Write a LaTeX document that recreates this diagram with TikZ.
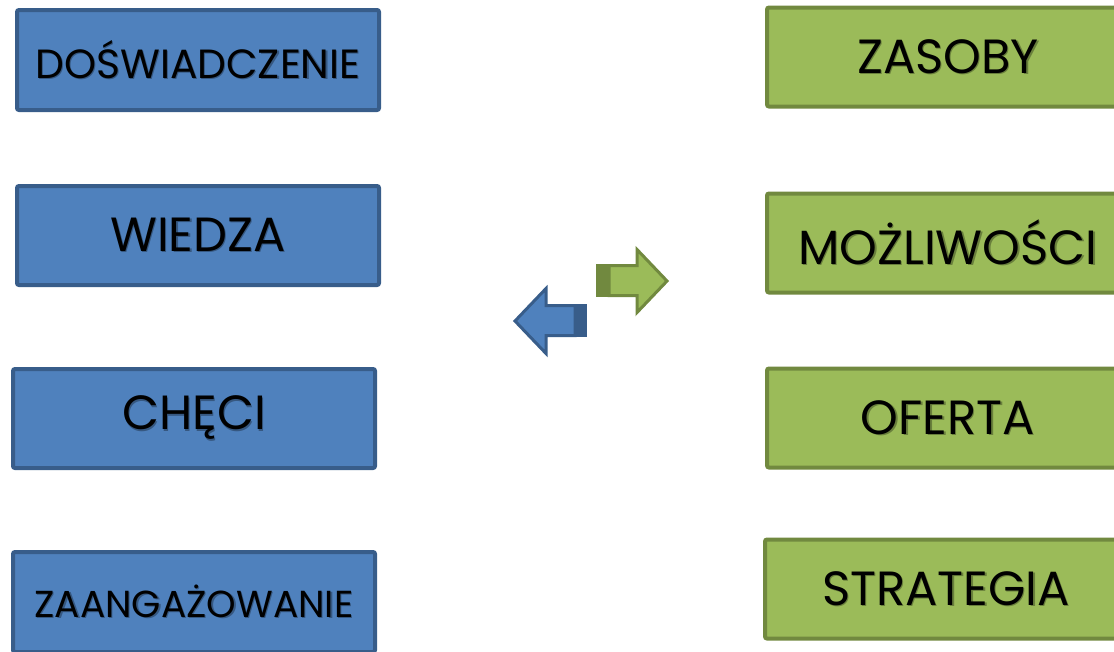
\documentclass[tikz,border=0pt]{standalone}
\usepackage{fontspec}
\setmainfont{Poppins}
\definecolor{bfill}{HTML}{4F81BD}
\definecolor{bline}{HTML}{385D8A}
\definecolor{gfill}{HTML}{9BBB59}
\definecolor{gline}{HTML}{71893F}
\newcommand{\shtxt}[2]{\rlap{\hspace{1.3pt}\raisebox{-1.3pt}{\textcolor{#1}{#2}}}#2}
\tikzset{
  box/.style={rectangle, rounded corners=2pt, line width=4pt, minimum width=362pt, inner sep=0pt, text=black},
  bluebox/.style={box, draw=bline, fill=bfill},
  greenbox/.style={box, draw=gline, fill=gfill},
  bigtxt/.style={font=\fontsize{48}{50}\selectfont},
  smalltxt/.style={font=\fontsize{40.8}{42}\selectfont},
  smallertxt/.style={font=\fontsize{37.6}{39}\selectfont},
}
\begin{document}
\begin{tikzpicture}[x=1pt,y=-1pt]
\useasboundingbox (0,0) rectangle (1114,651);
\clip (0,0) rectangle (1114,651);
% blue boxes
\node[bluebox, smalltxt, minimum height=100pt] (b1) at (198,60) {\shtxt{bfill!68!black}{DOŚWIADCZENIE}};
\node[bluebox, bigtxt, minimum height=99pt] (b2) at (198,235.5) {\shtxt{bfill!68!black}{WIEDZA}};
\node[bluebox, bigtxt, minimum height=99pt] (b3) at (194,418.5) {\shtxt{bfill!68!black}{CHĘCI}};
\node[bluebox, smallertxt, minimum height=100pt] (b4) at (194,602) {\shtxt{bfill!68!black}{ZAANGAŻOWANIE}};
% green boxes
\node[greenbox, bigtxt, minimum height=99pt] (g1) at (948,57) {\shtxt{gfill!68!black}{ZASOBY}};
\node[greenbox, bigtxt, minimum height=99pt] (g2) at (948,243) {\shtxt{gfill!68!black}{MOŻLIWOŚCI}};
\node[greenbox, bigtxt, minimum height=99pt] (g3) at (948,418) {\shtxt{gfill!68!black}{OFERTA}};
\node[greenbox, bigtxt, minimum height=99pt] (g4) at (946,589) {\shtxt{gfill!68!black}{STRATEGIA}};
% green arrow (right)
\fill[gline] (597.5,265.5) rectangle (609,295.5);
\draw[line width=3pt, draw=gline, fill=gfill, line join=miter]
  (609,265.5) -- (637,265.5) -- (637,249.5) -- (667,281) -- (637,312.5) -- (637,295.5) -- (609,295.5) -- cycle;
\draw[line width=3pt, draw=gline, line join=miter] (609,265.5) -- (597.5,265.5) -- (597.5,295.5) -- (609,295.5);
% blue arrow (left)
\fill[bline] (575,305.5) rectangle (585.5,335.5);
\draw[line width=3pt, draw=bline, fill=bfill, line join=miter]
  (575,305.5) -- (546,305.5) -- (546,288.5) -- (515,321) -- (546,353.5) -- (546,335.5) -- (575,335.5) -- cycle;
\draw[line width=3pt, draw=bline, line join=miter] (575,305.5) -- (585.5,305.5) -- (585.5,335.5) -- (575,335.5);
\end{tikzpicture}
\end{document}
